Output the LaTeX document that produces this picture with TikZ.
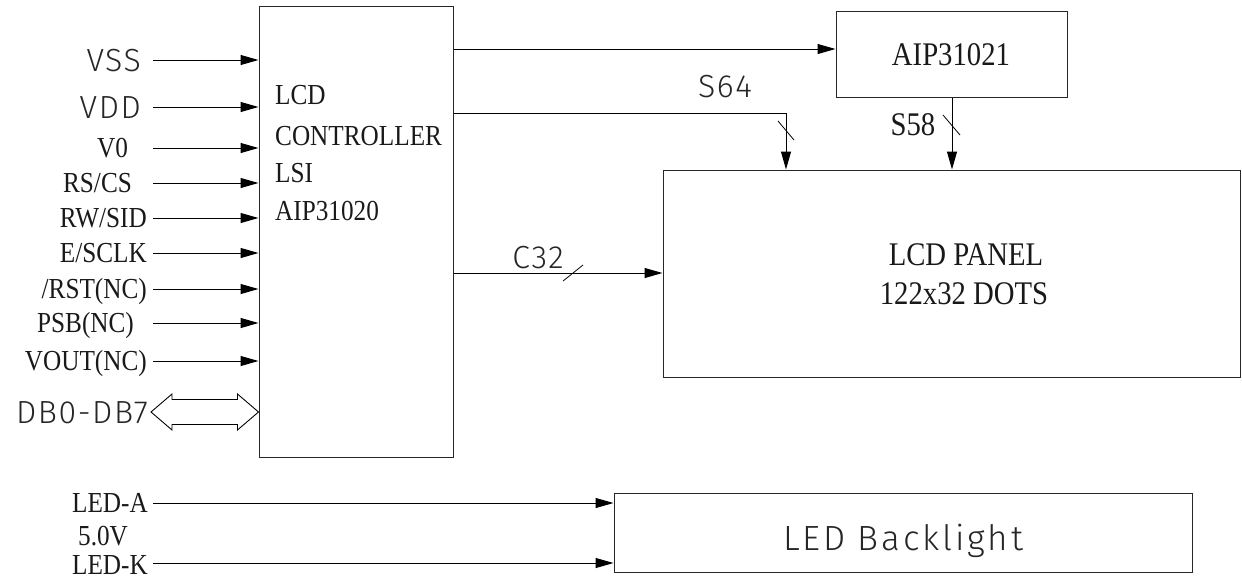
\documentclass[tikz,border=0pt]{standalone}
\usepackage{fontspec}
\setmainfont{Liberation Serif}[FakeStretch=0.87]
\newfontfamily\thinsans{Fira Sans Light}[LetterSpace=5]
\newfontfamily\thinsanswide{Fira Sans Light}[LetterSpace=8]
\usetikzlibrary{arrows.meta,calc}
\begin{document}
\begin{tikzpicture}[x=1pt,y=-1pt,
  wire/.style={draw=black, line width=1pt},
  arr/.style={wire, -{Triangle[length=18pt,width=10pt]}},
  blk/.style={draw=black!85, line width=1pt, rectangle, inner sep=0pt, fill=none},
  lbl/.style={font=\fontsize{29}{29}\selectfont, text=black!90, inner sep=0pt, text height=19pt, text depth=0pt},
  big/.style={font=\fontsize{33}{33}\selectfont, text=black!90, inner sep=0pt, text height=22pt, text depth=0pt},
  sans/.style={font=\thinsans\fontsize{32}{32}\selectfont, text=black!85, inner sep=0pt, text height=22pt, text depth=0pt},
  tick/.style={draw=black, line width=0.8pt}]
\useasboundingbox (0,0) rectangle (1242,579);

% blocks
\node[blk, minimum width=194pt, minimum height=451pt] (ctrl) at (356,231.5) {};
\node[blk, minimum width=231pt, minimum height=86pt] (aip) at (951.5,54) {};
\node[blk, minimum width=577pt, minimum height=207pt] (lcd) at (951.5,273.5) {};
\node[blk, minimum width=578pt, minimum height=79pt] (led) at (903,532.5) {};

% block texts
\node[lbl, anchor=west] (t1) at (275,94.5) {LCD};
\node[lbl, anchor=west] (t2) at (275,136) {CONTROLLER};
\node[lbl, anchor=west] (t3) at (275,173) {LSI};
\node[lbl, anchor=west] (t4) at (275,211) {AIP31020};
\node[big] (taip) at (951,54.5) {AIP31021};
\node[big] (tl1) at (966,254) {LCD PANEL};
\node[big] (tl2) at (964,293) {122x32 DOTS};
\node[font=\thinsanswide\fontsize{35}{35}\selectfont, text=black!85, inner sep=0pt, text height=24pt, text depth=0pt] (tled) at (903,538.5) {LED Backlight};

% input labels
\node[sans, anchor=east] (lVSS) at (141,60) {VSS};
\node[sans, anchor=east] (lVDD) at (141,107) {VDD};
\node[lbl] (lV0) at (112.5,148) {V0};
\node[lbl] (lRS) at (97.5,183) {RS/CS};
\node[lbl, anchor=east] (lRW) at (147,218) {RW/SID};
\node[lbl, anchor=east] (lE) at (147,253) {E/SCLK};
\node[lbl, anchor=east] (lRST) at (147,289) {/RST(NC)};
\node[lbl] (lPSB) at (85.5,323) {PSB(NC)};
\node[lbl, anchor=east] (lVOUT) at (147,361) {VOUT(NC)};
\node[sans, anchor=east] (lDB) at (148,412) {DB0-DB7};

% input wire starts
\foreach \n/\y in {VSS/60,VDD/107,V0/148,RS/183,RW/218,E/253,RST/289,PSB/323,VOUT/361}{
  \coordinate (s\n) at (153,\y);
  \draw[arr] (s\n) -- (s\n -| ctrl.west);
}

% DB0-DB7 double hollow arrow
\coordinate (dbL) at (151,412);
\coordinate (dbR) at (ctrl.west |- dbL);
\draw[wire, line width=0.9pt, line join=miter]
  (dbL) -- ($(dbL)+(21,-18)$) -- ($(dbL)+(21,-12.5)$) -- ($(dbR)+(-21,-12.5)$)
  -- ($(dbR)+(-21,-18)$) -- (dbR) -- ($(dbR)+(-21,18)$) -- ($(dbR)+(-21,12.5)$)
  -- ($(dbL)+(21,12.5)$) -- ($(dbL)+(21,18)$) -- cycle;

% controller outputs
\coordinate (o1) at (ctrl.east |- 0,49);
\draw[arr] (o1) -- (o1 -| aip.west);

\coordinate (o2) at (ctrl.east |- 0,113);
\coordinate (c64) at (786,113);
\draw[arr] (o2) -- (c64) -- (c64 |- lcd.north);
\draw[tick] ($(c64)+(-8,8)$) -- ++(16,19);
\node[sans] (lS64) at (725,86) {S64};

\coordinate (o3) at (ctrl.east |- 0,273);
\draw[arr] (o3) -- (o3 -| lcd.west);
\draw[tick] (563,281) -- (583,265);
\node[sans] (lC32) at (538,257) {C32};

% AIP31021 to panel
\coordinate (a58) at (952,0);
\draw[arr] (a58 |- aip.south) -- (a58 |- lcd.north);
\draw[tick] (943,115) -- (960,135);
\node[big] (lS58) at (913,124) {S58};

% backlight
\node[lbl, anchor=east] (lLEDA) at (148,503) {LED-A};
\node[lbl, anchor=west] (l50) at (78,536) {5.0V};
\node[lbl, anchor=east] (lLEDK) at (148,565) {LED-K};
\coordinate (sA) at (153,503);
\coordinate (sK) at (153,563);
\draw[arr] (sA) -- (sA -| led.west);
\draw[arr] (sK) -- (sK -| led.west);
\end{tikzpicture}
\end{document}
